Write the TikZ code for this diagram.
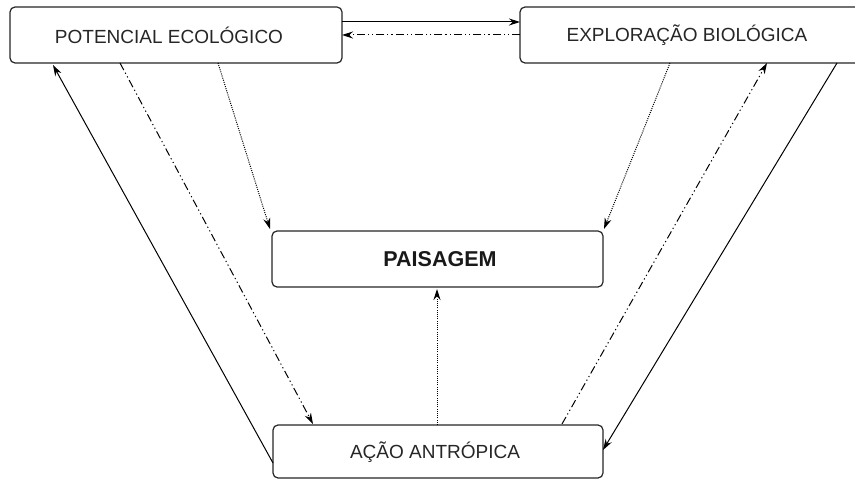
\documentclass[tikz,border=0pt]{standalone}
\usepackage{fontspec}
\setmainfont{Liberation Sans}
\usetikzlibrary{arrows.meta}
\begin{document}
\begin{tikzpicture}[x=1pt,y=-1pt,
  box/.style={draw=black!85, line width=1.2pt, rounded corners=5pt, fill=white},
  lbl/.style={font=\fontsize{19}{21}\selectfont, text=black!85},
  conn/.style={line width=1pt, -{Stealth[length=11pt,width=7pt]}},
  ddot/.style={dash pattern=on 8pt off 3pt on 1.2pt off 3pt on 1.2pt off 3pt},
  dotl/.style={dash pattern=on 1pt off 1.2pt}
]
\useasboundingbox (0,0) rectangle (855,481);
\draw[box] (10,7) rectangle (342,63);
\node[lbl] (pe) at (169,35) {POTENCIAL ECOLÓGICO};
\draw[box] (520,7) rectangle (862,63);
\node[lbl] (eb) at (687,35) {EXPLORAÇÃO BIOLÓGICA};
\draw[box] (272,231) rectangle (603,287);
\node[font=\bfseries\fontsize{21.5}{24}\selectfont, text=black!90] (pai) at (440,259) {PAISAGEM};
\draw[box] (273,425) rectangle (603,478);
\node[lbl] (ac) at (435,452) {AÇÃO ANTRÓPICA};

\coordinate (peR1) at (342,22);
\coordinate (ebL1) at (520,22);
\coordinate (peR2) at (342,35);
\coordinate (ebL2) at (520,35);
\coordinate (peB1) at (218,63);
\coordinate (paTL) at (270,229);
\coordinate (peB2) at (120,63);
\coordinate (acTL) at (313,424);
\coordinate (acL) at (273,463);
\coordinate (peBL) at (53,65);
\coordinate (ebB1) at (670,63);
\coordinate (paTR) at (604,229);
\coordinate (acTR) at (562,424);
\coordinate (ebB2) at (767,63);
\coordinate (ebB3) at (837,63);
\coordinate (acR) at (603,450);
\coordinate (acT) at (437,425);
\coordinate (paB) at (437,289);

\draw[conn] (peR1) -- (ebL1);
\draw[conn,ddot] (ebL2) -- (peR2);
\draw[conn,dotl] (peB1) -- (paTL);
\draw[conn,ddot] (peB2) -- (acTL);
\draw[conn] (acL) -- (peBL);
\draw[conn,dotl] (ebB1) -- (paTR);
\draw[conn,ddot] (acTR) -- (ebB2);
\draw[conn] (ebB3) -- (acR);
\draw[conn,dotl] (acT) -- (paB);
\end{tikzpicture}
\end{document}
